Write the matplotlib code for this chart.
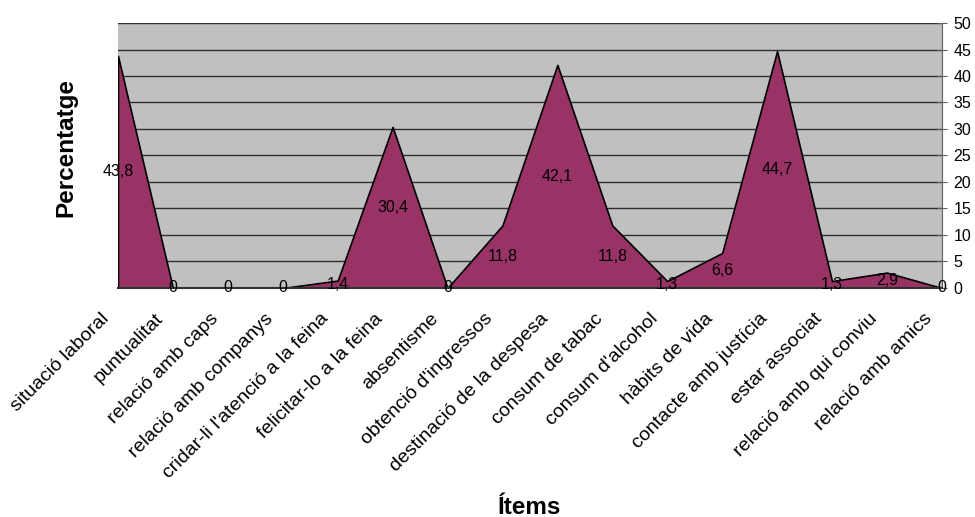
import matplotlib.pyplot as plt
from matplotlib.transforms import ScaledTranslation

items = ["situació laboral", "puntualitat", "relació amb caps", "relació amb companys",
         "cridar-li l'atenció a la feina", "felicitar-lo a la feina", "absentisme",
         "obtenció d'ingressos", "destinació de la despesa", "consum de tabac",
         "consum d'alcohol", "hàbits de vida", "contacte amb justícia", "estar associat",
         "relació amb qui conviu", "relació amb amics"]
percentatge = [43.8, 0, 0, 0, 1.4, 30.4, 0, 11.8, 42.1, 11.8, 1.3, 6.6, 44.7, 1.3, 2.9, 0]
yticks = list(range(0, 55, 5))

plt.rcParams['font.family'] = ['Liberation Sans', 'DejaVu Sans']

fig = plt.figure(figsize=(9.75, 5.17), dpi=100)
ax = fig.add_axes([0.121, 0.443, 0.845, 0.5125])
ax.set_facecolor("#C0C0C0")

x = list(range(len(items)))
ax.fill_between(x, percentatge, 0, facecolor="#993366", edgecolor="black",
                lw=1.2, zorder=2)

for xi, v in zip(x, percentatge):
    lbl = ("%g" % v).replace(".", ",")
    ax.text(xi, v / 2, lbl, ha="center", va="center", fontsize=11.5, zorder=4)

ax.set_xlim(0, len(items) - 1)
ax.set_ylim(0, 50)
ax.set_yticks(yticks)
ax.yaxis.tick_right()
ax.tick_params(axis="y", direction="inout", length=7, labelsize=11.5, pad=5, color="#606060")
ax.grid(axis="y", color="#303030", lw=1, zorder=1)
ax.set_axisbelow(True)

ax.set_xticks(x)
ax.set_xticklabels(items, rotation=45, ha="right", va="top", rotation_mode="anchor",
                   fontsize=14)
ax.tick_params(axis="x", length=0, pad=0)
off = ScaledTranslation(-0.18, -0.22, fig.dpi_scale_trans)
for t in ax.get_xticklabels():
    t.set_transform(t.get_transform() + off)

for s in ["left", "top"]:
    ax.spines[s].set_visible(False)
ax.spines["right"].set_color("#606060")
ax.spines["bottom"].set_color("#303030")
ax.spines["bottom"].set_linewidth(1.5)

fig.text(0.068, 0.714, "Percentatge", rotation=90, ha="center", va="center",
         fontsize=17.5, fontweight="bold")
fig.text(0.543, 0.006, "Ítems", ha="center", va="baseline", fontsize=17.5, fontweight="bold")

fig.savefig("out.png", dpi=100)
